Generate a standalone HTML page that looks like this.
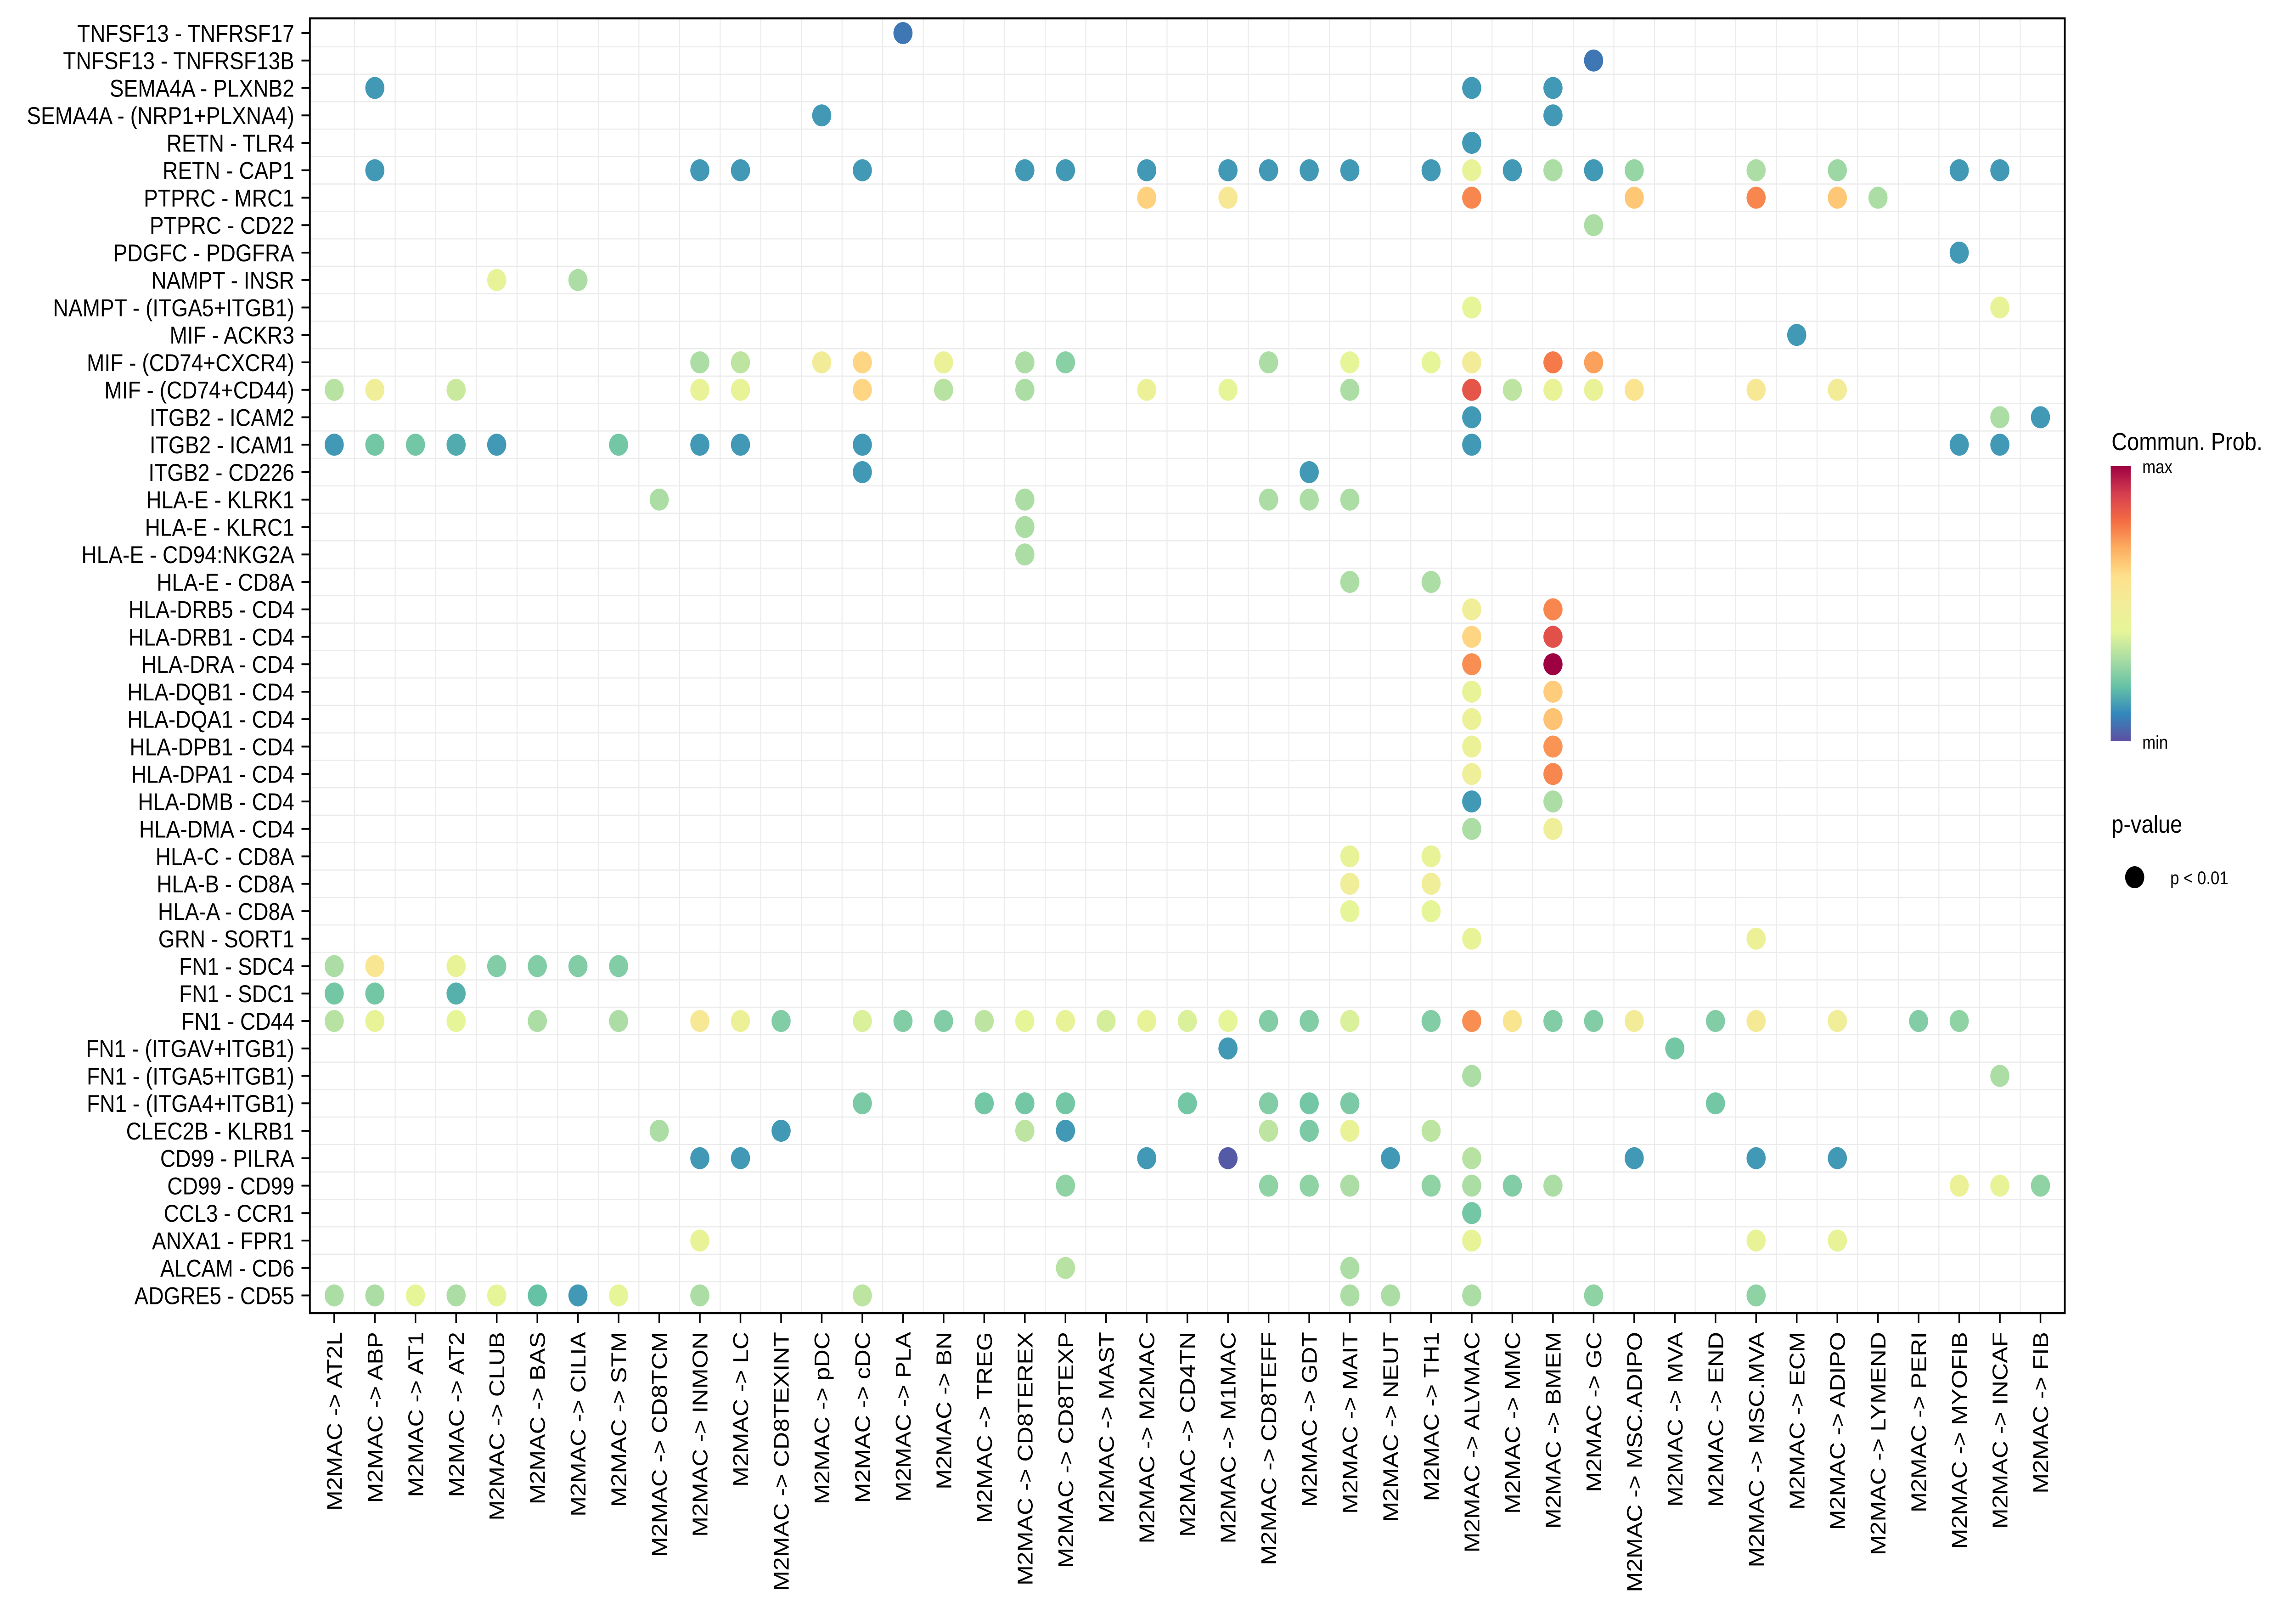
<!DOCTYPE html>
<html><head><meta charset="utf-8"><style>
html,body{margin:0;padding:0;background:#fff;width:100%;height:100%;overflow:hidden;}
svg{display:block;width:100vw;height:100vh;font-family:"Liberation Sans",Arial,sans-serif;}
</style></head><body>
<svg id="chart" xmlns="http://www.w3.org/2000/svg" viewBox="0 0 5750 3525" preserveAspectRatio="none">
<rect width="5750" height="3525" fill="#fff"/>
<g id="grid"></g>
<g id="dots"></g>
<rect x="776" y="40" width="4395" height="2819" fill="none" stroke="#000" stroke-width="4.5"/>
<g id="yaxis"></g>
<g id="xaxis"></g>
<g>
<defs><linearGradient id="cg" x1="0" y1="1" x2="0" y2="0">
<stop offset="0" stop-color="#5E4FA2"/><stop offset="0.1" stop-color="#3288BD"/><stop offset="0.2" stop-color="#66C2A5"/><stop offset="0.3" stop-color="#ABDDA4"/><stop offset="0.4" stop-color="#E6F598"/><stop offset="0.5" stop-color="#F2EC98"/><stop offset="0.6" stop-color="#FEE08B"/><stop offset="0.7" stop-color="#FDAE61"/><stop offset="0.8" stop-color="#F46D43"/><stop offset="0.9" stop-color="#D53E4F"/><stop offset="1" stop-color="#9E0142"/></linearGradient></defs>
<text x="5288" y="980" font-size="54">Commun. Prob.</text>
<rect x="5286" y="1015" width="50" height="599" fill="url(#cg)"/>
<text x="5365" y="1030" font-size="40">max</text>
<text x="5365" y="1630" font-size="40">min</text>
</g>
<g>
<text x="5288" y="1813" font-size="54">p-value</text>
<circle cx="5346" cy="1910" r="24" fill="#000"/>
<text x="5435" y="1925" font-size="40">p &lt; 0.01</text>
</g>
</svg>
<script>
const pairs = ["TNFSF13 - TNFRSF17","TNFSF13 - TNFRSF13B","SEMA4A - PLXNB2","SEMA4A - (NRP1+PLXNA4)","RETN - TLR4","RETN - CAP1","PTPRC - MRC1","PTPRC - CD22","PDGFC - PDGFRA","NAMPT - INSR","NAMPT - (ITGA5+ITGB1)","MIF - ACKR3","MIF - (CD74+CXCR4)","MIF - (CD74+CD44)","ITGB2 - ICAM2","ITGB2 - ICAM1","ITGB2 - CD226","HLA-E - KLRK1","HLA-E - KLRC1","HLA-E - CD94:NKG2A","HLA-E - CD8A","HLA-DRB5 - CD4","HLA-DRB1 - CD4","HLA-DRA - CD4","HLA-DQB1 - CD4","HLA-DQA1 - CD4","HLA-DPB1 - CD4","HLA-DPA1 - CD4","HLA-DMB - CD4","HLA-DMA - CD4","HLA-C - CD8A","HLA-B - CD8A","HLA-A - CD8A","GRN - SORT1","FN1 - SDC4","FN1 - SDC1","FN1 - CD44","FN1 - (ITGAV+ITGB1)","FN1 - (ITGA5+ITGB1)","FN1 - (ITGA4+ITGB1)","CLEC2B - KLRB1","CD99 - PILRA","CD99 - CD99","CCL3 - CCR1","ANXA1 - FPR1","ALCAM - CD6","ADGRE5 - CD55"];
const targets = ["AT2L","ABP","AT1","AT2","CLUB","BAS","CILIA","STM","CD8TCM","INMON","LC","CD8TEXINT","pDC","cDC","PLA","BN","TREG","CD8TEREX","CD8TEXP","MAST","M2MAC","CD4TN","M1MAC","CD8TEFF","GDT","MAIT","NEUT","TH1","ALVMAC","MMC","BMEM","GC","MSC.ADIPO","MVA","END","MSC.MVA","ECM","ADIPO","LYMEND","PERI","MYOFIB","INCAF","FIB"];
// dots: pair (row) index, target (column) index, probability on 0(min)..10(max) scale
const dotPair = [0,1,2,2,2,3,3,4,
5,5,5,5,5,5,5,5,5,5,5,5,5,5,5,5,5,5,5,5,5,
6,6,6,6,6,6,6,7,8,9,9,10,10,11,
12,12,12,12,12,12,12,12,12,12,12,12,12,
13,13,13,13,13,13,13,13,13,13,13,13,13,13,13,13,13,13,
14,14,14,15,15,15,15,15,15,15,15,15,15,15,15,16,16,
17,17,17,17,17,18,19,20,20,
21,21,22,22,23,23,24,24,25,25,26,26,27,27,28,28,29,29,
30,30,31,31,32,32,33,33,
34,34,34,34,34,34,34,35,35,35,
36,36,36,36,36,36,36,36,36,36,36,36,36,36,36,36,36,36,36,36,36,36,36,36,36,36,36,36,36,36,36,36,
37,37,38,38,39,39,39,39,39,39,39,39,39,
40,40,40,40,40,40,40,40,
41,41,41,41,41,41,41,41,41,
42,42,42,42,42,42,42,42,42,42,42,
43,44,44,44,44,45,45,
46,46,46,46,46,46,46,46,46,46,46,46,46,46,46];
const dotTarget = [14,31,1,28,30,12,30,28,
1,9,10,13,17,18,20,22,23,24,25,27,28,29,30,31,32,35,37,40,41,
20,22,28,32,35,37,38,31,40,4,6,28,41,36,
9,10,12,13,15,17,18,23,25,27,28,30,31,
0,1,3,9,10,13,15,17,20,22,25,28,29,30,31,32,35,37,
28,41,42,0,1,2,3,4,7,9,10,13,28,40,41,13,24,
8,17,23,24,25,17,17,25,27,
28,30,28,30,28,30,28,30,28,30,28,30,28,30,28,30,28,30,
25,27,25,27,25,27,28,35,
0,1,3,4,5,6,7,0,1,3,
0,1,3,5,7,9,10,11,13,14,15,16,17,18,19,20,21,22,23,24,25,27,28,29,30,31,32,34,35,37,39,40,
22,33,28,41,13,16,17,18,21,23,24,25,34,
8,11,17,18,23,24,25,27,
9,10,20,22,26,28,32,35,37,
18,23,24,25,27,28,29,30,40,41,42,
28,9,28,35,37,18,25,
0,1,2,3,4,5,6,7,9,13,25,26,28,31,35];
const dotProb = [0.7,0.7,1.3,1.3,1.3,1.3,1.3,1.3,
1.3,1.3,1.3,1.3,1.3,1.3,1.3,1.3,1.3,1.3,1.3,1.3,4.2,1.3,3,1.3,2.7,3,2.8,1.3,1.3,
6.3,5.3,7.6,6.5,7.6,6.5,3,3,1.3,4.2,3,4,4.2,1.3,
3,3.3,5,6.2,4.5,3,2.5,3,4,4,5,7.8,7.2,
3.2,4.8,3.5,4.3,4.2,6.2,3.2,3,4.5,4,3,8.5,3.3,4.3,4.3,5.7,5.3,5,
1.3,3,1.3,1.3,2.2,2.2,1.6,1.3,2.2,1.3,1.3,1.3,1.3,1.3,1.3,1.3,1.3,
3,3,3,3,3,3,3,3,3,
4.8,7.6,6.2,8.6,7.5,10,4.2,6.4,4.5,6.6,4.5,7.4,4.7,7.6,1.3,3,3,4.7,
4.2,4.2,4.8,4.8,4,4,4.2,4.5,
3,5.5,4.2,2.4,2.4,2.4,2.4,2.2,2.2,1.7,
3.2,4.2,4,3,3,5.3,4.5,2.4,3.8,2.4,2.4,3.3,4,4.2,3.7,4.2,3.8,4,2.4,2.4,3.8,2.4,7.5,5.6,2.4,2.4,5,2.4,5.2,4.8,2.4,2.6,
1.3,2.2,3,3,2.3,2.2,2.2,2.2,2.2,2.4,2.2,2.3,2.2,
3,1.3,3.3,1.3,3.3,2.3,4.3,3.3,
1.3,1.3,1.3,0.2,1.3,3.2,1.3,1.3,1.3,
2.6,2.6,2.6,3,2.6,3,2.4,3,4.5,4.2,2.6,
2.2,4.2,4.2,4.2,4.2,3.2,3,
3,3,4,3,4,2,1.3,4,3,3.3,3,3,3,2.6,2.6];

const NS = "http://www.w3.org/2000/svg";
const colX0 = 837, colStep = 101.74, rowY0 = 72, rowStep = 59.75;
const xScale = i => colX0 + i * colStep;
const yScale = i => rowY0 + i * rowStep;
const stops = ["#5E4FA2","#3288BD","#66C2A5","#ABDDA4","#E6F598","#F2EC98","#FEE08B","#FDAE61","#F46D43","#D53E4F","#9E0142"];
function hex(h){return [1,3,5].map(k=>parseInt(h.substr(k,2),16));}
function colorScale(v){
  v=Math.max(0,Math.min(10,v));const i=Math.min(9,Math.floor(v));const t=v-i;
  const a=hex(stops[i]),b=hex(stops[i+1]);
  return "rgb("+a.map((c,k)=>Math.round(c+(b[k]-c)*t)).join(",")+")";
}
function mk(tag,attrs,parent){const e=document.createElementNS(NS,tag);for(const k in attrs)e.setAttribute(k,attrs[k]);parent.appendChild(e);return e;}
const grid=document.getElementById("grid"),dots=document.getElementById("dots"),ya=document.getElementById("yaxis"),xa=document.getElementById("xaxis");
for(let i=0;i<targets.length-1;i++){
  const x=xScale(i+0.5);
  const l=mk("line",{x1:x,x2:x,y1:40,y2:2859,stroke:"#ebebeb","stroke-width":2.5},grid);
  
  
}
for(let i=0;i<pairs.length-1;i++){
  const y=yScale(i+0.5);
  const l=mk("line",{x1:776,x2:5171,y1:y,y2:y,stroke:"#ebebeb","stroke-width":2.5},grid);
  
  
}
pairs.forEach((p,i)=>{
  const y=yScale(i);
  const t=mk("line",{x1:755,x2:776,y1:y,y2:y,stroke:"#000","stroke-width":4},ya);
  
  
  const tx=mk("text",{x:737,y:y+19,"font-size":53,"text-anchor":"end"},ya);
  tx.textContent=p;
  
  
});
targets.forEach((c,i)=>{
  const x=xScale(i);
  const t=mk("line",{x1:x,x2:x,y1:2859,y2:2880,stroke:"#000","stroke-width":4},xa);
  
  
  const tx=mk("text",{x:0,y:0,"font-size":53,"text-anchor":"end",transform:"translate("+(x+19)+",2900) rotate(-90)"},xa);
  tx.textContent="M2MAC -> "+c;
  
  
});
for(let k=0;k<dotPair.length;k++){
  const c=mk("circle",{cx:xScale(dotTarget[k]),cy:yScale(dotPair[k]),r:24,fill:colorScale(dotProb[k])},dots);
  
  
}
</script>
</body></html>
